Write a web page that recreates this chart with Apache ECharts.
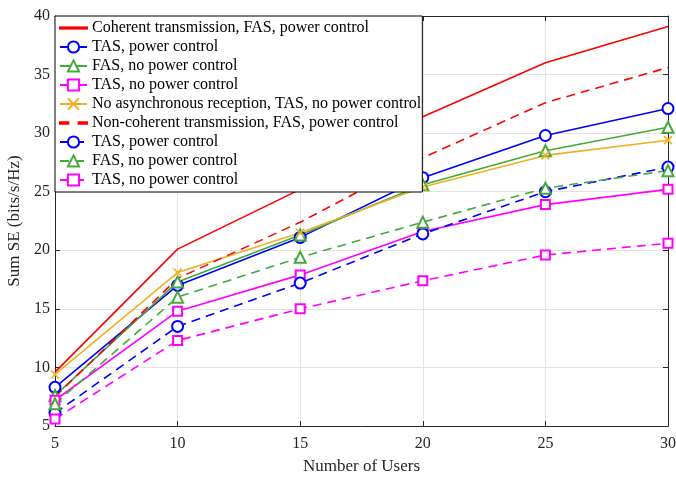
<!DOCTYPE html>
<html>
<head>
<meta charset="utf-8">
<script src="https://cdn.jsdelivr.net/npm/echarts@6/dist/echarts.min.js"></script>
<style>
  html, body { margin: 0; padding: 0; background: #fff; }
  #chart { width: 676px; height: 477px; }
</style>
</head>
<body>
<div id="chart"></div>
<script>
// values
const users = [5, 10, 15, 20, 25, 30];
const coherentFas = [9.6, 20.1, 25.2, 31.4, 36.0, 39.1];
const tasPc = [8.3, 17.0, 21.1, 26.2, 29.8, 32.1];
const fasNoPc = [7.6, 17.3, 21.3, 25.6, 28.5, 30.5];
const tasNoPc = [7.2, 14.8, 17.9, 21.6, 23.9, 25.2];
const noAsyncTas = [9.4, 18.1, 21.5, 25.4, 28.1, 29.4];
const nonCoherentFas = [7.5, 17.6, 22.4, 27.9, 32.6, 35.6];
const tasPcNc = [6.1, 13.5, 17.2, 21.4, 25.0, 27.1];
const fasNoPcNc = [6.9, 16.0, 19.4, 22.4, 25.3, 26.8];
const tasNoPcNc = [5.6, 12.3, 15.0, 17.4, 19.6, 20.6];

const RED = '#ff0000', BLUE = '#0000ff', GREEN = '#45a83a', MAGENTA = '#ff00ff', ORANGE = '#edb120';
const FONT = 'Liberation Serif';
const DASH = [9, 6];

const pairs = (ys) => users.map((u, i) => [u, ys[i]]);

// names of the dashed group get a trailing space so the legend keeps them apart
function line(name, ys, color, symbol, size, dashed) {
    return {
        name: name,
        type: 'line',
        data: pairs(ys),
        symbol: symbol || 'none',
        symbolSize: size || 10,
        showSymbol: !!symbol,
        lineStyle: { color: color, width: 1.6, type: dashed ? DASH : 'solid' },
        itemStyle: { color: color, borderColor: color, borderWidth: 1.6 },
        emphasis: { disabled: true },
        animation: false
    };
}

const cross = 'path://M0,0L10,10M10,0L0,10';

const series = [
    line('Coherent transmission, FAS, power control', coherentFas, RED),
    line('TAS, power control', tasPc, BLUE, 'emptyCircle', 11),
    line('FAS, no power control', fasNoPc, GREEN, 'emptyTriangle', 11),
    line('TAS, no power control', tasNoPc, MAGENTA, 'emptyRect', 9),
    line('No asynchronous reception, TAS, no power control', noAsyncTas, ORANGE, cross, 8),
    line('Non-coherent transmission, FAS, power control', nonCoherentFas, RED, null, 0, true),
    line('TAS, power control ', tasPcNc, BLUE, 'emptyCircle', 11, true),
    line('FAS, no power control ', fasNoPcNc, GREEN, 'emptyTriangle', 11, true),
    line('TAS, no power control ', tasNoPcNc, MAGENTA, 'emptyRect', 9, true)
];

// plain line icons for the two series without markers
const solidIcon = 'path://M0,0h30v1.4h-30z';
const dashIcon = 'path://M0,0h9v1.4h-9zM20,0h9v1.4h-9z';
const legendData = series.map((s) => {
    if (s.symbol !== 'none') return { name: s.name };
    return { name: s.name, icon: s.lineStyle.type === 'solid' ? solidIcon : dashIcon };
});

const chart = echarts.init(document.getElementById('chart'), null, { renderer: 'canvas' });

const axisLine = { show: true, lineStyle: { color: '#262626', width: 1 } };
const tickIn = { show: true, inside: true, length: 5, lineStyle: { color: '#262626' } };

chart.setOption({
    backgroundColor: '#ffffff',
    grid: { left: 55, right: 8, top: 16, bottom: 51, outerBoundsMode: 'none' },
    legend: {
        orient: 'vertical',
        left: 55,
        top: 16,
        padding: [4, 1, 4, 4],
        itemWidth: 27,
        itemHeight: 14,
        itemGap: 3,
        backgroundColor: '#ffffff',
        borderColor: '#000000',
        borderWidth: 1,
        selectedMode: false,
        formatter: (n) => n.trim(),
        textStyle: { fontFamily: FONT, fontSize: 16, color: '#000' },
        data: legendData
    },
    xAxis: [{
        type: 'value',
        min: 5, max: 30, interval: 5,
        name: 'Number of Users',
        nameLocation: 'middle',
        nameGap: 32,
        nameTextStyle: { fontFamily: FONT, fontSize: 17, color: '#262626' },
        axisLine: axisLine,
        axisTick: tickIn,
        axisLabel: { fontFamily: FONT, fontSize: 16, color: '#262626', margin: 10 },
        splitLine: { show: true, lineStyle: { color: '#e3e3e3', width: 1 } }
    }, {
        type: 'value', position: 'top',
        min: 5, max: 30, interval: 5,
        axisLine: axisLine, axisTick: tickIn,
        axisLabel: { show: false }, splitLine: { show: false }
    }],
    yAxis: [{
        type: 'value',
        min: 5, max: 40, interval: 5,
        name: 'Sum SE (bits/s/Hz)',
        nameLocation: 'middle',
        nameGap: 31,
        nameTextStyle: { fontFamily: FONT, fontSize: 17, color: '#262626' },
        axisLine: axisLine,
        axisTick: tickIn,
        axisLabel: { fontFamily: FONT, fontSize: 16, color: '#262626', margin: 5 },
        splitLine: { show: true, lineStyle: { color: '#e3e3e3', width: 1 } }
    }, {
        type: 'value', position: 'right',
        min: 5, max: 40, interval: 5,
        axisLine: axisLine, axisTick: tickIn,
        axisLabel: { show: false }, splitLine: { show: false }
    }],
    series: series
});
</script>
</body>
</html>
